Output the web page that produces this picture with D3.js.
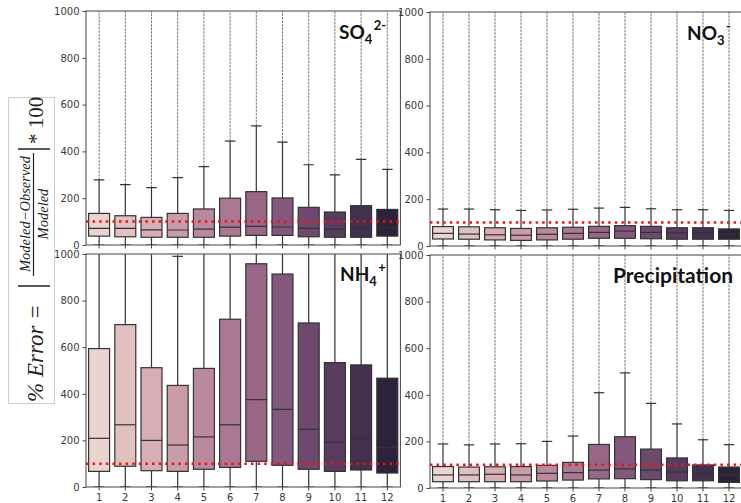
<!DOCTYPE html>
<html>
<head>
<meta charset="utf-8">
<script src="https://cdn.jsdelivr.net/npm/d3@7"></script>
<style>
  body { margin: 0; background: #fff; }
  svg { display: block; }
</style>
</head>
<body>
<svg id="chart" width="741" height="503"></svg>
<script>
// Monthly distribution of % error (box = IQR, line = median, whisker top)
const months = ["1","2","3","4","5","6","7","8","9","10","11","12"];
const yTicks = [0, 200, 400, 600, 800, 1000];
const lowWhisker = [0,0,0,0,0,0,0,0,0,0,0,0];

const so4Q1     = [38, 35, 33, 33, 33, 38, 41, 41, 35, 33, 33, 38];
const so4Median = [71, 71, 65, 64, 68, 76, 80, 77, 71, 67, 71, 74];
const so4Q3     = [135, 125, 118, 135, 154, 200, 228, 201, 161, 141, 168, 152];
const so4Upper  = [278, 258, 245, 288, 335, 444, 509, 440, 343, 300, 366, 323];

const no3Q1     = [30, 29, 26, 24, 26, 29, 33, 33, 31, 29, 29, 29];
const no3Median = [54, 51, 48, 46, 50, 54, 58, 64, 58, 56, 56, 51];
const no3Q3     = [83, 82, 78, 75, 78, 80, 84, 87, 84, 78, 78, 73];
const no3Upper  = [158, 158, 155, 152, 154, 157, 162, 165, 159, 155, 155, 152];

const nh4Q1     = [67, 89, 70, 67, 76, 84, 110, 93, 76, 67, 73, 60];
const nh4Median = [209, 267, 200, 180, 215, 267, 375, 333, 247, 193, 209, 170];
const nh4Q3     = [594, 697, 512, 436, 509, 720, 958, 914, 704, 534, 524, 467];
const nh4Upper  = [1450, 1700, 1250, 990, 1250, 1750, 2300, 2200, 1700, 1150, 1150, 1100];

const precipQ1     = [27, 27, 27, 27, 30, 34, 39, 40, 36, 31, 31, 24];
const precipMedian = [56, 56, 59, 56, 63, 66, 77, 82, 77, 69, 63, 56];
const precipQ3     = [92, 90, 91, 92, 97, 110, 187, 220, 167, 129, 99, 90];
const precipUpper  = [189, 185, 189, 190, 200, 223, 409, 494, 363, 275, 207, 186];

const referenceError = 100;   // 100 % error guide line
const yMax = 1000;            // axis limit; outliers continue beyond it

// seaborn-style cubehelix palette, desaturated like its box plots
function cubehelixPalette(n) {
  const start = 0, rot = 0.4, gamma = 1, hue = 0.8, light = 0.85, dark = 0.15;
  const chan = (p0, p1) => x => {
    const xg = Math.pow(x, gamma);
    const a = hue * xg * (1 - xg) / 2;
    const phi = 2 * Math.PI * (start / 3 + rot * x);
    return Math.max(0, Math.min(1, xg + a * (p0 * Math.cos(phi) + p1 * Math.sin(phi))));
  };
  const r = chan(-0.14861, 1.78277), g = chan(-0.29227, -0.90649), b = chan(1.97294, 0);
  return d3.range(n).map(i => {
    const x = light + (dark - light) * i / (n - 1);
    const c = d3.hsl(d3.rgb(r(x) * 255, g(x) * 255, b(x) * 255));
    c.s *= 0.75;
    return c.formatHex();
  });
}
const palette = cubehelixPalette(months.length);

const svg = d3.select("#chart");
svg.append("rect").attr("width", 741).attr("height", 503).attr("fill", "#fff");

const panels = [
  { id: "so4", q1: so4Q1, med: so4Median, q3: so4Q3, up: so4Upper,
    x0: 86, x1: 400.4, top: 11, bottom: 245, xLabels: false,
    title: { x: 339, y: 39, size: 19, parts: [["SO"], ["4", "sub"], ["2-", "sup"]] } },
  { id: "no3", q1: no3Q1, med: no3Median, q3: no3Q3, up: no3Upper,
    x0: 430, x1: 742, top: 12, bottom: 246, xLabels: false,
    title: { x: 687, y: 40, size: 19, parts: [["NO"], ["3", "sub"], ["-", "sup"]] } },
  { id: "nh4", q1: nh4Q1, med: nh4Median, q3: nh4Q3, up: nh4Upper,
    x0: 86, x1: 400.4, top: 254, bottom: 487, xLabels: true,
    title: { x: 340, y: 281, size: 19, parts: [["NH"], ["4", "sub"], ["+", "sup"]] } },
  { id: "precip", q1: precipQ1, med: precipMedian, q3: precipQ3, up: precipUpper,
    x0: 430, x1: 742, top: 255, bottom: 488, xLabels: true,
    title: { x: 613, y: 283, size: 21, parts: [["Precipitation"]] } }
];

const lineColor = "#333";
const axisColor = "#444";

panels.forEach(p => {
  const g = svg.append("g").attr("class", "panel-" + p.id);
  const x = d3.scaleBand().domain(months).range([p.x0, p.x1]).paddingInner(0).paddingOuter(0);
  const y = d3.scaleLinear().domain([0, yMax]).range([p.bottom, p.top]);
  const boxW = x.bandwidth() * 0.8;
  const capW = boxW * 0.5;

  g.append("rect").attr("x", p.x0).attr("y", p.top)
    .attr("width", p.x1 - p.x0).attr("height", p.bottom - p.top).attr("fill", "#fff");

  const clipId = "clip-" + p.id;
  g.append("clipPath").attr("id", clipId).append("rect")
    .attr("x", p.x0).attr("y", p.top).attr("width", p.x1 - p.x0).attr("height", p.bottom - p.top);
  const plot = g.append("g").attr("clip-path", `url(#${clipId})`);

  const rows = months.map((m, i) => ({
    m, i, q1: p.q1[i], med: p.med[i], q3: p.q3[i], up: p.up[i], lo: lowWhisker[i]
  }));
  const cx = d => x(d.m) + x.bandwidth() / 2;

  // outliers above the upper whisker, running off the top of the axis
  plot.selectAll(".flier").data(rows.filter(d => d.up < yMax)).join("line")
    .attr("x1", cx).attr("x2", cx)
    .attr("y1", d => y(d.up)).attr("y2", y(yMax) - 2)
    .attr("stroke", "#555").attr("stroke-width", 1)
    .attr("stroke-dasharray", "2.5,1").attr("opacity", 0.8);

  // whiskers
  plot.selectAll(".whisker-hi").data(rows).join("line")
    .attr("x1", cx).attr("x2", cx)
    .attr("y1", d => y(d.q3)).attr("y2", d => y(d.up))
    .attr("stroke", lineColor).attr("stroke-width", 1.2);
  plot.selectAll(".whisker-lo").data(rows).join("line")
    .attr("x1", cx).attr("x2", cx)
    .attr("y1", d => y(d.q1)).attr("y2", d => y(d.lo))
    .attr("stroke", lineColor).attr("stroke-width", 1.2);

  // caps
  plot.selectAll(".cap-hi").data(rows).join("line")
    .attr("x1", d => cx(d) - capW / 2).attr("x2", d => cx(d) + capW / 2)
    .attr("y1", d => y(d.up)).attr("y2", d => y(d.up))
    .attr("stroke", lineColor).attr("stroke-width", 1.2);
  plot.selectAll(".cap-lo").data(rows).join("line")
    .attr("x1", d => cx(d) - capW / 2).attr("x2", d => cx(d) + capW / 2)
    .attr("y1", d => y(d.lo)).attr("y2", d => y(d.lo))
    .attr("stroke", lineColor).attr("stroke-width", 1.2);

  // boxes
  plot.selectAll(".box").data(rows).join("rect")
    .attr("x", d => cx(d) - boxW / 2).attr("width", boxW)
    .attr("y", d => y(d.q3)).attr("height", d => y(d.q1) - y(d.q3))
    .attr("fill", d => palette[d.i]).attr("stroke", lineColor).attr("stroke-width", 1.2);

  // medians
  plot.selectAll(".median").data(rows).join("line")
    .attr("x1", d => cx(d) - boxW / 2).attr("x2", d => cx(d) + boxW / 2)
    .attr("y1", d => y(d.med)).attr("y2", d => y(d.med))
    .attr("stroke", lineColor).attr("stroke-width", 1.2);

  // 100 % reference line
  plot.append("line")
    .attr("x1", p.x0).attr("x2", p.x1)
    .attr("y1", y(referenceError)).attr("y2", y(referenceError))
    .attr("stroke", "#e8141c").attr("stroke-width", 2.5)
    .attr("stroke-dasharray", "2.5,4.1");

  // axes
  const yAxis = g.append("g").attr("transform", `translate(${p.x0},0)`)
    .call(d3.axisLeft(y).tickValues(yTicks).tickSize(3.5).tickPadding(3)
      .tickFormat(d3.format("d")));
  const xAxis = g.append("g").attr("transform", `translate(0,${p.bottom})`)
    .call(d3.axisBottom(x).tickSize(3.5).tickPadding(3.5)
      .tickFormat(p.xLabels ? (d => d) : () => ""));
  [yAxis, xAxis].forEach(a => {
    a.select(".domain").remove();
    a.selectAll(".tick line").attr("stroke", axisColor);
    a.selectAll(".tick text").attr("fill", "#3a3a3a")
      .style("font-family", "'DejaVu Sans', sans-serif").style("font-size", "10px");
  });

  // frame
  g.append("rect").attr("x", p.x0).attr("y", p.top)
    .attr("width", p.x1 - p.x0).attr("height", p.bottom - p.top)
    .attr("fill", "none").attr("stroke", axisColor).attr("stroke-width", 1);

  // panel title
  const t = g.append("text").attr("x", p.title.x).attr("y", p.title.y)
    .style("font-family", "Lato, 'Open Sans', sans-serif").style("font-weight", "bold")
    .style("font-size", p.title.size + "px").attr("fill", "#111");
  let shift = 0;
  p.title.parts.forEach(([txt, kind]) => {
    const ts = t.append("tspan").text(txt);
    if (kind === "sub") {
      ts.attr("dy", 5 - shift).style("font-size", "13px"); shift = 5;
    } else if (kind === "sup") {
      ts.attr("dy", -9 - shift).attr("dx", 1.5).style("font-size", "13px"); shift = -9;
    }
  });
});

// shared y-axis label: % Error = |(Modeled − Observed) / Modeled| * 100
svg.append("rect").attr("x", 8.5).attr("y", 97.5).attr("width", 46).attr("height", 306)
  .attr("fill", "#fff").attr("stroke", "#cfcfcf").attr("stroke-width", 1);
const lab = svg.append("g").attr("transform", "translate(31,250) rotate(-90)")
  .style("font-family", "'Liberation Serif', 'DejaVu Serif', serif").attr("fill", "#222");
lab.append("text").attr("x", -152).attr("y", 12).style("font-size", "23px")
  .style("font-style", "italic").text("% Error =");
lab.append("line").attr("x1", -36).attr("x2", -36).attr("y1", -13).attr("y2", 19)
  .attr("stroke", "#222").attr("stroke-width", 1.5);
lab.append("text").attr("x", 36).attr("y", -1).attr("text-anchor", "middle")
  .style("font-size", "14.5px").style("font-style", "italic").text("Modeled\u2212Observed");
lab.append("line").attr("x1", -26).attr("x2", 97).attr("y1", 2.5).attr("y2", 2.5)
  .attr("stroke", "#222").attr("stroke-width", 1.2);
lab.append("text").attr("x", 36).attr("y", 17).attr("text-anchor", "middle")
  .style("font-size", "14.5px").style("font-style", "italic").text("Modeled");
lab.append("line").attr("x1", 101).attr("x2", 101).attr("y1", -13).attr("y2", 19)
  .attr("stroke", "#222").attr("stroke-width", 1.5);
lab.append("text").attr("x", 106).attr("y", 12).style("font-size", "21px").text("* 100");
</script>
</body>
</html>
